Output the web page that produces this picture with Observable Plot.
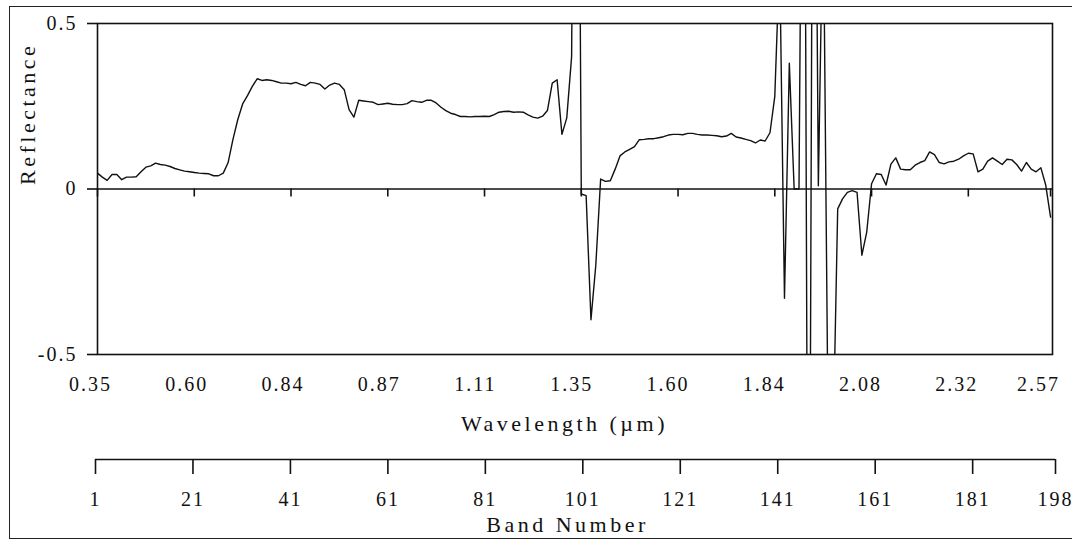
<!DOCTYPE html>
<html>
<head>
<meta charset="utf-8">
<script src="https://cdn.jsdelivr.net/npm/d3@7"></script>
<script src="https://cdn.jsdelivr.net/npm/@observablehq/plot@0.6"></script>
<style>
  body { margin: 0; background: #fff; }
  #chart { position: relative; width: 1072px; height: 542px; overflow: hidden; background: #fff; }
  #box { position: absolute; left: 9px; top: 6px; width: 1080px; height: 533px; border: 1.5px solid #222; box-sizing: border-box; }
  .layer { position: absolute; left: 0; overflow: visible; font-family: "Liberation Serif", "Times New Roman", serif !important; }
  .layer text { font-family: "Liberation Serif", "Times New Roman", serif !important; letter-spacing: 2px; fill: #111; }
  .layer text.title, .layer g.title text { letter-spacing: 3.5px; }
</style>
</head>
<body>
<div id="chart"><div id="box"></div></div>
<script>
// Reflectance per band (bands 1..198); values beyond ±0.5 are clipped by the frame
const reflectance = [
  0.048, 0.036, 0.026, 0.044, 0.044, 0.028, 0.036, 0.036, 0.037, 0.052,
  0.066, 0.070, 0.078, 0.074, 0.072, 0.068, 0.062, 0.058, 0.054, 0.052,
  0.050, 0.048, 0.047, 0.046, 0.040, 0.040, 0.048, 0.080, 0.150, 0.210,
  0.257, 0.282, 0.310, 0.333, 0.328, 0.330, 0.328, 0.324, 0.320, 0.320,
  0.318, 0.322, 0.316, 0.312, 0.322, 0.320, 0.316, 0.302, 0.314, 0.320,
  0.316, 0.300, 0.240, 0.217, 0.268, 0.266, 0.264, 0.262, 0.255, 0.257,
  0.259, 0.256, 0.255, 0.255, 0.258, 0.267, 0.264, 0.262, 0.268, 0.268,
  0.260, 0.247, 0.237, 0.229, 0.225, 0.219, 0.219, 0.218, 0.219, 0.219,
  0.220, 0.219, 0.225, 0.232, 0.234, 0.235, 0.232, 0.233, 0.232, 0.224,
  0.217, 0.214, 0.220, 0.237, 0.320, 0.330, 0.165, 0.215, 0.400, 2.500,
  -0.015, -0.020, -0.395, -0.230, 0.030, 0.023, 0.025, 0.060, 0.100, 0.112,
  0.120, 0.128, 0.149, 0.150, 0.152, 0.152, 0.155, 0.158, 0.163, 0.165,
  0.165, 0.164, 0.168, 0.168, 0.165, 0.163, 0.163, 0.162, 0.161, 0.158,
  0.160, 0.168, 0.157, 0.154, 0.150, 0.146, 0.139, 0.148, 0.145, 0.170,
  0.280, 0.700, -0.330, 0.380, 0.000, 0.000, 2.000, -2.000, 2.000, 0.010,
  0.900, -0.700, -0.800, -0.060, -0.030, -0.010, -0.005, -0.010, -0.200, -0.130,
  0.016, 0.046, 0.044, 0.012, 0.075, 0.094, 0.060, 0.058, 0.058, 0.072,
  0.080, 0.086, 0.112, 0.104, 0.080, 0.076, 0.082, 0.084, 0.090, 0.100,
  0.108, 0.106, 0.052, 0.060, 0.084, 0.094, 0.084, 0.074, 0.090, 0.088,
  0.074, 0.054, 0.080, 0.060, 0.052, 0.064, 0.012, -0.085
];
const bands = reflectance.map((_, i) => i + 1);
const tickBands = [1, 21, 41, 61, 81, 101, 121, 141, 161, 181, 198];
const wavelengthLabels = ["0.35", "0.60", "0.84", "0.87", "1.11", "1.35", "1.60", "1.84", "2.08", "2.32", "2.57"];
const yTicks = [-0.5, 0, 0.5];

const data = bands.map((b, i) => ({band: b, r: reflectance[i]}));
const ink = "#111";
const baseStyle = {fontFamily: "Liberation Serif, Times New Roman, serif", fontSize: "20px", background: "none", color: ink, overflow: "visible"};

// Main panel
const main = Plot.plot({
  width: 1072, height: 440,
  marginLeft: 97, marginRight: 20, marginTop: 23, marginBottom: 86,
  style: baseStyle,
  x: {domain: [1, 198.4], axis: null},
  y: {domain: [-0.5, 0.5]},
  marks: [
    Plot.frame({stroke: ink, strokeWidth: 1.6}),
    Plot.ruleY([0], {stroke: ink, strokeWidth: 1.6}),
    Plot.ruleX(tickBands, {x: d => d, y1: 0, y2: 0, insetBottom: -8, stroke: ink, strokeWidth: 1.6}),
    Plot.axisY(yTicks, {tickSize: 10, tickPadding: 10, strokeWidth: 1.6, label: null,
      tickFormat: d => d === 0 ? "0" : d.toFixed(1), fontSize: 20}),
    Plot.line(data, {x: "band", y: "r", stroke: ink, strokeWidth: 1.4, clip: true}),
    Plot.text(["Reflectance"], {frameAnchor: "left", lineAnchor: "middle", dx: -70, dy: -4, rotate: -90, fontSize: 22, className: "title"})
  ]
});

// Wavelength labels strip
const wave = Plot.plot({
  width: 1072, height: 86,
  marginLeft: 90, marginRight: 34, marginTop: 0, marginBottom: 0,
  style: baseStyle,
  x: {domain: [1, 198], axis: null},
  marks: [
    Plot.text(tickBands, {x: d => d, text: (d, i) => wavelengthLabels[i], frameAnchor: "top", lineAnchor: "middle", dy: 30, fontSize: 20}),
    Plot.text(["Wavelength (\u00b5m)"], {frameAnchor: "top", lineAnchor: "middle", dy: 69, fontSize: 22, className: "title"})
  ]
});

// Band number axis strip
const band = Plot.plot({
  width: 1072, height: 102,
  marginLeft: 95, marginRight: 17, marginTop: 0, marginBottom: 83,
  style: baseStyle,
  x: {domain: [1, 198], axis: null},
  y: {domain: [0, 1], axis: null},
  marks: [
    Plot.ruleY([0], {stroke: ink, strokeWidth: 1.6}),
    Plot.ruleX(tickBands, {x: d => d, y1: 0, y2: 0, insetBottom: -15, stroke: ink, strokeWidth: 1.6}),
    Plot.text(tickBands, {x: d => d, y: () => 0, text: d => String(d), lineAnchor: "middle", dy: 40, fontSize: 20}),
    Plot.text(["Band Number"], {frameAnchor: "bottom", lineAnchor: "middle", dx: -8, dy: 65, fontSize: 22, className: "title"})
  ]
});

const chart = document.getElementById("chart");
[[main, 0], [wave, 354], [band, 440]].forEach(([svg, top]) => {
  svg.classList.add("layer");
  svg.style.top = top + "px";
  svg.style.position = "absolute";
  chart.appendChild(svg);
});
</script>
</body>
</html>
